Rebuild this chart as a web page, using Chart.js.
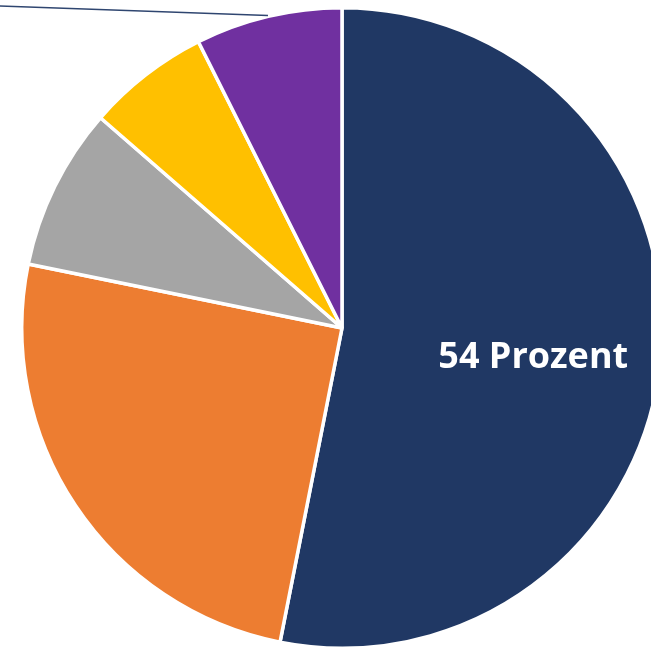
<!DOCTYPE html>
<html>
<head>
<meta charset="utf-8">
<script src="https://cdn.jsdelivr.net/npm/chart.js@4/dist/chart.umd.min.js"></script>
<style>
  html, body { margin: 0; padding: 0; background: #fff; overflow: hidden; }
  #wrap { position: absolute; left: 0; top: 0; width: 670px; height: 652px; }
</style>
</head>
<body>
<div id="wrap"><canvas id="pieChart" width="670" height="652"></canvas></div>
<script>
const labels = ['Anteil 1', 'Anteil 2', 'Anteil 3', 'Anteil 4', 'Anteil 5'];
const values = [53.1, 25.1, 8.2, 6.2, 7.4];
const colors = ['#203864', '#ED7D31', '#A5A5A5', '#FFC000', '#7030A0'];
const mainLabel = '54 Prozent';

// text in the big slice + leader line of the purple slice
const extras = {
  id: 'extras',
  afterDatasetsDraw(chart) {
    const ctx = chart.ctx;
    const arcs = chart.getDatasetMeta(0).data;

    const big = arcs[0];
    const midA = (big.startAngle + big.endAngle) / 2;
    const r = big.outerRadius * 0.6;
    ctx.save();
    ctx.fillStyle = '#fff';
    ctx.font = 'bold 36px "Open Sans"';
    ctx.textAlign = 'center';
    ctx.textBaseline = 'middle';
    ctx.fillText(mainLabel, big.x + Math.cos(midA) * r, big.y + Math.sin(midA) * r + 11);

    const last = arcs[arcs.length - 1];
    const a = (last.startAngle + last.endAngle) / 2;
    const x0 = last.x + Math.cos(a) * (last.outerRadius + 1);
    const y0 = last.y + Math.sin(a) * (last.outerRadius + 1);
    ctx.strokeStyle = '#2F4670';
    ctx.lineWidth = 1.5;
    ctx.beginPath();
    ctx.moveTo(x0, y0);
    ctx.lineTo(0, y0 - x0 * 0.035);
    ctx.stroke();
    ctx.restore();
  }
};

new Chart(document.getElementById('pieChart'), {
  type: 'pie',
  data: {
    labels: labels,
    datasets: [{
      data: values,
      backgroundColor: colors,
      borderColor: '#fff',
      borderWidth: 3.5,
    }],
  },
  options: {
    responsive: false,
    animation: false,
    layout: { padding: { left: 20, right: 6, top: 6, bottom: 2 } },
    plugins: {
      legend: { display: false },
      tooltip: { enabled: false },
    },
  },
  plugins: [extras],
});
</script>
</body>
</html>
